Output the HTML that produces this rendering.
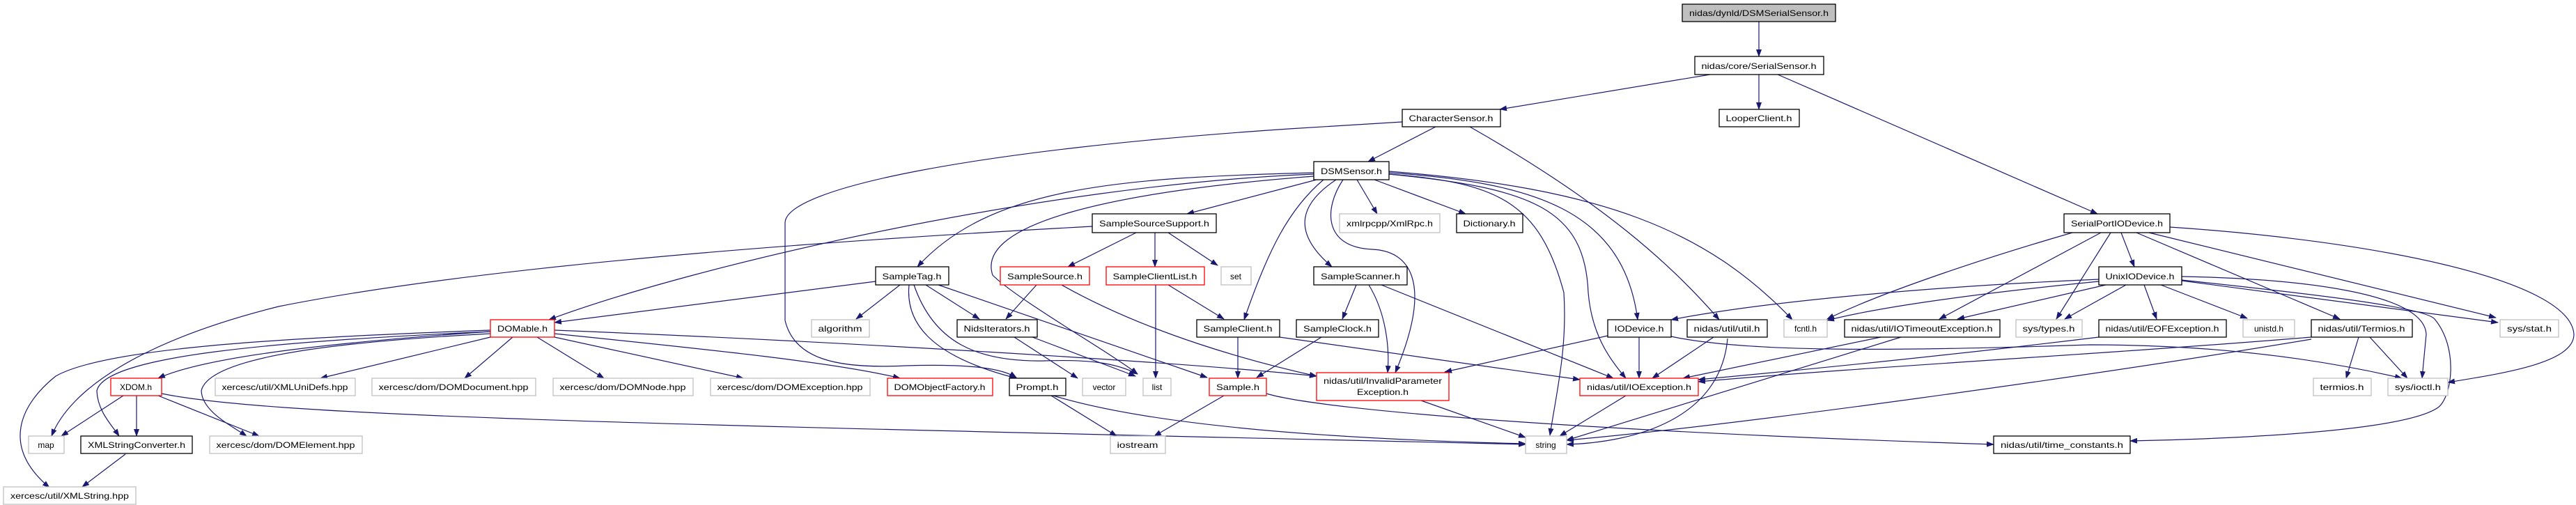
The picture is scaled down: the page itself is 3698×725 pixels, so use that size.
<!DOCTYPE html>
<html><head><meta charset="utf-8"><style>
html,body{margin:0;padding:0;background:#fff;}
svg{display:block;}
text{font-family:"Liberation Sans","DejaVu Sans",sans-serif;font-size:12px;fill:#000;}
.e{fill:none;stroke:#191970;stroke-width:1.2;marker-end:url(#a);}
.n{fill:#fff;stroke:#000;stroke-width:1.3;}
.g{fill:#fff;stroke:#bfbfbf;stroke-width:1.3;}
.r{fill:#fff;stroke:#ff0000;stroke-width:1.3;}
</style></head><body>
<svg width="3698" height="725" viewBox="0 0 3698 725" xmlns="http://www.w3.org/2000/svg">
<defs><marker id="a" markerWidth="11" markerHeight="8" refX="10" refY="4" orient="auto" markerUnits="userSpaceOnUse"><path d="M0,0 L11,4 L0,8 z" fill="#191970"/></marker></defs>
<g>
<path class="e" d="M2525,31 L2525,81"/>
<path class="e" d="M2455,107 L2153,157"/>
<path class="e" d="M2525,107 L2525,157"/>
<path class="e" d="M2552,107 L3011,307"/>
<path class="e" d="M2061,182 L1964,232"/>
<path class="e" d="M2110,182 C2300,290 2400,380 2468,459"/>
<path class="e" d="M2013,175 L1850,185 C1400,215 1127,270 1127,320 L1127,460 C1140,515 1200,530 1300,525 C1400,522 1440,530 1459,542"/>
<path class="e" d="M1886,250 C1500,265 1000,380 788,459"/>
<path class="e" d="M1886,248 C1600,255 1420,270 1317,383"/>
<path class="e" d="M1890,258 L1704,307"/>
<path class="e" d="M1886,253 C1600,275 1400,320 1425,395 C1460,430 1600,510 1633,537"/>
<path class="e" d="M1900,258 C1850,300 1820,360 1786,459"/>
<path class="e" d="M1948,258 L1977,307"/>
<path class="e" d="M1973,258 L2104,307"/>
<path class="e" d="M1918,258 C1870,290 1850,330 1912,383"/>
<path class="e" d="M1928,258 C1900,300 1900,355 1970,358 C2020,360 2060,400 2003,535"/>
<path class="e" d="M1994,250 C2150,262 2210,290 2245,420 C2250,500 2235,560 2225,625"/>
<path class="e" d="M1994,250 C2200,270 2275,300 2280,420 C2285,480 2310,515 2334,543"/>
<path class="e" d="M1994,248 C2200,262 2330,300 2351,459"/>
<path class="e" d="M1994,246 C2300,270 2450,330 2573,459"/>
<path class="e" d="M1631,334 L1533,383"/>
<path class="e" d="M1658,334 L1658,383"/>
<path class="e" d="M1677,334 L1748,381"/>
<path class="e" d="M1568,325 C1200,345 700,380 400,440 C200,490 100,560 74,626"/>
<path class="e" d="M1257,404 L796,463"/>
<path class="e" d="M1292,409 L1229,458"/>
<path class="e" d="M1329,409 L1406,458"/>
<path class="e" d="M1305,409 C1300,460 1330,510 1459,543"/>
<path class="e" d="M1312,409 C1340,490 1400,520 1500,518 C1560,516 1600,520 1633,537"/>
<path class="e" d="M1347,409 L1733,542"/>
<path class="e" d="M1488,409 L1444,458"/>
<path class="e" d="M1524,409 C1650,480 1800,520 1890,540"/>
<path class="e" d="M1659,409 L1659,543"/>
<path class="e" d="M1677,409 L1757,458"/>
<path class="e" d="M1456,484 L1547,543"/>
<path class="e" d="M1482,484 L1630,540"/>
<path class="e" d="M1777,484 L1777,543"/>
<path class="e" d="M1837,484 L2268,545"/>
<path class="e" d="M1897,484 L1804,542"/>
<path class="e" d="M1818,565 C1900,590 2300,620 2862,638"/>
<path class="e" d="M1757,568 L1657,626"/>
<path class="e" d="M1509,568 L1603,626"/>
<path class="e" d="M1512,568 C1650,610 1900,630 2190,637"/>
<path class="e" d="M232,565 C400,600 1000,610 2190,638"/>
<path class="e" d="M2040,575 L2190,628"/>
<path class="e" d="M2334,568 L2239,626"/>
<path class="e" d="M2353,484 L2353,543"/>
<path class="e" d="M2308,482 L2074,534"/>
<path class="e" d="M2399,483 C2500,505 2700,505 3000,495 C3200,495 3350,520 3448,543"/>
<path class="e" d="M2460,484 L2372,543"/>
<path class="e" d="M2480,486 C2470,600 2350,635 2249,638"/>
<path class="e" d="M2700,484 L2416,543"/>
<path class="e" d="M2729,484 L2249,632"/>
<path class="e" d="M3013,401 C2800,410 2550,430 2399,459"/>
<path class="e" d="M2975,334 C2850,370 2700,420 2623,458"/>
<path class="e" d="M3013,404 C2850,420 2700,440 2623,460"/>
<path class="e" d="M3016,334 L2784,458"/>
<path class="e" d="M3023,409 L2810,458"/>
<path class="e" d="M3030,334 L2952,458"/>
<path class="e" d="M3052,409 L2964,458"/>
<path class="e" d="M3045,334 L3064,383"/>
<path class="e" d="M3067,334 L3359,458"/>
<path class="e" d="M3085,334 L3583,456"/>
<path class="e" d="M3115,326 C3400,345 3690,400 3695,480 C3695,520 3600,535 3514,549"/>
<path class="e" d="M3078,409 L3096,458"/>
<path class="e" d="M3102,409 L3226,457"/>
<path class="e" d="M3132,403 L3586,463"/>
<path class="e" d="M3132,397 C3300,400 3480,420 3483,480 L3477,543"/>
<path class="e" d="M3132,402 C3300,420 3480,440 3495,458 C3530,500 3520,570 3500,585 C3450,620 3200,630 3058,633"/>
<path class="e" d="M3013,484 C2800,510 2600,530 2438,545"/>
<path class="e" d="M3318,484 C3000,510 2700,525 2438,548"/>
<path class="e" d="M3318,487 C3000,540 2500,610 2249,632"/>
<path class="e" d="M3386,484 L3368,543"/>
<path class="e" d="M3402,484 L3456,543"/>
<path class="e" d="M704,476 C500,490 300,510 227,543"/>
<path class="e" d="M704,484 L460,543"/>
<path class="e" d="M736,484 L667,543"/>
<path class="e" d="M771,484 L867,543"/>
<path class="e" d="M796,484 L1067,543"/>
<path class="e" d="M796,479 C1000,500 1200,520 1292,543"/>
<path class="e" d="M796,474 C1200,490 1700,520 1890,540"/>
<path class="e" d="M704,474 C400,485 150,500 80,540 C30,580 0,640 71,700"/>
<path class="e" d="M704,476 C400,490 150,510 139,561 C140,590 160,610 171,626"/>
<path class="e" d="M704,479 C500,490 300,510 289,561 C290,590 330,610 354,626"/>
<path class="e" d="M177,568 L88,626"/>
<path class="e" d="M196,568 L196,626"/>
<path class="e" d="M227,568 L372,626"/>
<path class="e" d="M180,652 L118,699"/>
<path class="e" d="M1947,409 L1927,458"/>
<path class="e" d="M1965,409 C1990,450 1995,500 1992,535"/>
<path class="e" d="M1983,409 L2316,543"/>
</g>
<g>
<rect x="2415" y="6" width="220" height="25" fill="#bfbfbf" stroke="#000" stroke-width="1.3"/><text x="2525" y="23" text-anchor="middle" textLength="200" lengthAdjust="spacingAndGlyphs">nidas/dynld/DSMSerialSensor.h</text>
<rect class="n" x="2433" y="81" width="185" height="26"/><text x="2525" y="99" text-anchor="middle" textLength="165" lengthAdjust="spacingAndGlyphs">nidas/core/SerialSensor.h</text>
<rect class="n" x="2013" y="157" width="141" height="25"/><text x="2083" y="174" text-anchor="middle" textLength="121" lengthAdjust="spacingAndGlyphs">CharacterSensor.h</text>
<rect class="n" x="2468" y="157" width="115" height="25"/><text x="2525" y="174" text-anchor="middle" textLength="95" lengthAdjust="spacingAndGlyphs">LooperClient.h</text>
<rect class="n" x="1886" y="232" width="108" height="26"/><text x="1940" y="250" text-anchor="middle" textLength="88" lengthAdjust="spacingAndGlyphs">DSMSensor.h</text>
<rect class="n" x="1568" y="307" width="178" height="27"/><text x="1657" y="325" text-anchor="middle" textLength="158" lengthAdjust="spacingAndGlyphs">SampleSourceSupport.h</text>
<rect class="g" x="1923" y="307" width="144" height="27"/><text x="1995" y="325" text-anchor="middle" textLength="124" lengthAdjust="spacingAndGlyphs">xmlrpcpp/XmlRpc.h</text>
<rect class="n" x="2091" y="307" width="95" height="27"/><text x="2138" y="325" text-anchor="middle" textLength="75" lengthAdjust="spacingAndGlyphs">Dictionary.h</text>
<rect class="n" x="2963" y="307" width="152" height="27"/><text x="3039" y="325" text-anchor="middle" textLength="132" lengthAdjust="spacingAndGlyphs">SerialPortIODevice.h</text>
<rect class="n" x="1257" y="383" width="105" height="26"/><text x="1309" y="401" text-anchor="middle" textLength="85" lengthAdjust="spacingAndGlyphs">SampleTag.h</text>
<rect class="r" x="1436" y="383" width="128" height="26"/><text x="1500" y="401" text-anchor="middle" textLength="108" lengthAdjust="spacingAndGlyphs">SampleSource.h</text>
<rect class="r" x="1588" y="383" width="141" height="26"/><text x="1658" y="401" text-anchor="middle" textLength="121" lengthAdjust="spacingAndGlyphs">SampleClientList.h</text>
<rect class="g" x="1753" y="383" width="43" height="26"/><text x="1774" y="401" text-anchor="middle">set</text>
<rect class="n" x="1886" y="383" width="134" height="26"/><text x="1953" y="401" text-anchor="middle" textLength="114" lengthAdjust="spacingAndGlyphs">SampleScanner.h</text>
<rect class="n" x="3013" y="383" width="119" height="26"/><text x="3072" y="401" text-anchor="middle" textLength="99" lengthAdjust="spacingAndGlyphs">UnixIODevice.h</text>
<rect class="r" x="704" y="459" width="92" height="25"/><text x="750" y="476" text-anchor="middle" textLength="72" lengthAdjust="spacingAndGlyphs">DOMable.h</text>
<rect class="g" x="1165" y="459" width="83" height="25"/><text x="1206" y="476" text-anchor="middle" textLength="63" lengthAdjust="spacingAndGlyphs">algorithm</text>
<rect class="n" x="1374" y="459" width="115" height="25"/><text x="1431" y="476" text-anchor="middle" textLength="95" lengthAdjust="spacingAndGlyphs">NidsIterators.h</text>
<rect class="n" x="1718" y="459" width="119" height="25"/><text x="1777" y="476" text-anchor="middle" textLength="99" lengthAdjust="spacingAndGlyphs">SampleClient.h</text>
<rect class="n" x="1861" y="459" width="118" height="25"/><text x="1920" y="476" text-anchor="middle" textLength="98" lengthAdjust="spacingAndGlyphs">SampleClock.h</text>
<rect class="n" x="2308" y="459" width="91" height="25"/><text x="2353" y="476" text-anchor="middle" textLength="71" lengthAdjust="spacingAndGlyphs">IODevice.h</text>
<rect class="n" x="2422" y="459" width="115" height="25"/><text x="2479" y="476" text-anchor="middle" textLength="95" lengthAdjust="spacingAndGlyphs">nidas/util/util.h</text>
<rect class="g" x="2561" y="459" width="62" height="25"/><text x="2592" y="476" text-anchor="middle">fcntl.h</text>
<rect class="n" x="2648" y="459" width="223" height="25"/><text x="2759" y="476" text-anchor="middle" textLength="203" lengthAdjust="spacingAndGlyphs">nidas/util/IOTimeoutException.h</text>
<rect class="g" x="2894" y="459" width="95" height="25"/><text x="2941" y="476" text-anchor="middle" textLength="75" lengthAdjust="spacingAndGlyphs">sys/types.h</text>
<rect class="n" x="3013" y="459" width="183" height="25"/><text x="3104" y="476" text-anchor="middle" textLength="163" lengthAdjust="spacingAndGlyphs">nidas/util/EOFException.h</text>
<rect class="g" x="3220" y="459" width="74" height="25"/><text x="3257" y="476" text-anchor="middle">unistd.h</text>
<rect class="n" x="3318" y="459" width="145" height="25"/><text x="3390" y="476" text-anchor="middle" textLength="125" lengthAdjust="spacingAndGlyphs">nidas/util/Termios.h</text>
<rect class="g" x="3589" y="459" width="84" height="25"/><text x="3631" y="476" text-anchor="middle" textLength="64" lengthAdjust="spacingAndGlyphs">sys/stat.h</text>
<rect class="r" x="159" y="543" width="73" height="25"/><text x="195" y="560" text-anchor="middle">XDOM.h</text>
<rect class="g" x="309" y="543" width="201" height="25"/><text x="409" y="560" text-anchor="middle" textLength="181" lengthAdjust="spacingAndGlyphs">xercesc/util/XMLUniDefs.hpp</text>
<rect class="g" x="534" y="543" width="235" height="25"/><text x="651" y="560" text-anchor="middle" textLength="215" lengthAdjust="spacingAndGlyphs">xercesc/dom/DOMDocument.hpp</text>
<rect class="g" x="794" y="543" width="201" height="25"/><text x="894" y="560" text-anchor="middle" textLength="181" lengthAdjust="spacingAndGlyphs">xercesc/dom/DOMNode.hpp</text>
<rect class="g" x="1020" y="543" width="229" height="25"/><text x="1134" y="560" text-anchor="middle" textLength="209" lengthAdjust="spacingAndGlyphs">xercesc/dom/DOMException.hpp</text>
<rect class="r" x="1274" y="543" width="151" height="25"/><text x="1349" y="560" text-anchor="middle" textLength="131" lengthAdjust="spacingAndGlyphs">DOMObjectFactory.h</text>
<rect class="n" x="1449" y="543" width="81" height="25"/><text x="1489" y="560" text-anchor="middle" textLength="61" lengthAdjust="spacingAndGlyphs">Prompt.h</text>
<rect class="g" x="1554" y="543" width="62" height="25"/><text x="1585" y="560" text-anchor="middle">vector</text>
<rect class="g" x="1641" y="543" width="40" height="25"/><text x="1661" y="560" text-anchor="middle">list</text>
<rect class="r" x="1736" y="543" width="82" height="25"/><text x="1777" y="560" text-anchor="middle" textLength="62" lengthAdjust="spacingAndGlyphs">Sample.h</text>
<rect class="r" x="1890" y="535" width="190" height="40"/><text x="1985" y="551" text-anchor="middle" textLength="170" lengthAdjust="spacingAndGlyphs">nidas/util/InvalidParameter</text><text x="1985" y="567" text-anchor="middle" textLength="74" lengthAdjust="spacingAndGlyphs">Exception.h</text>
<rect class="r" x="2268" y="543" width="170" height="25"/><text x="2353" y="560" text-anchor="middle" textLength="150" lengthAdjust="spacingAndGlyphs">nidas/util/IOException.h</text>
<rect class="g" x="3321" y="543" width="83" height="25"/><text x="3362" y="560" text-anchor="middle" textLength="63" lengthAdjust="spacingAndGlyphs">termios.h</text>
<rect class="g" x="3428" y="543" width="86" height="25"/><text x="3471" y="560" text-anchor="middle" textLength="66" lengthAdjust="spacingAndGlyphs">sys/ioctl.h</text>
<rect class="g" x="41" y="626" width="51" height="25"/><text x="66" y="643" text-anchor="middle">map</text>
<rect class="n" x="116" y="626" width="160" height="25"/><text x="196" y="643" text-anchor="middle" textLength="140" lengthAdjust="spacingAndGlyphs">XMLStringConverter.h</text>
<rect class="g" x="301" y="626" width="219" height="25"/><text x="410" y="643" text-anchor="middle" textLength="199" lengthAdjust="spacingAndGlyphs">xercesc/dom/DOMElement.hpp</text>
<rect class="g" x="1594" y="626" width="79" height="25"/><text x="1633" y="643" text-anchor="middle" textLength="59" lengthAdjust="spacingAndGlyphs">iostream</text>
<rect class="g" x="2190" y="626" width="59" height="25"/><text x="2219" y="643" text-anchor="middle">string</text>
<rect class="n" x="2862" y="626" width="196" height="25"/><text x="2960" y="643" text-anchor="middle" textLength="176" lengthAdjust="spacingAndGlyphs">nidas/util/time_constants.h</text>
<rect class="g" x="5" y="699" width="190" height="25"/><text x="100" y="716" text-anchor="middle" textLength="170" lengthAdjust="spacingAndGlyphs">xercesc/util/XMLString.hpp</text>
</g>
</svg>
</body></html>
